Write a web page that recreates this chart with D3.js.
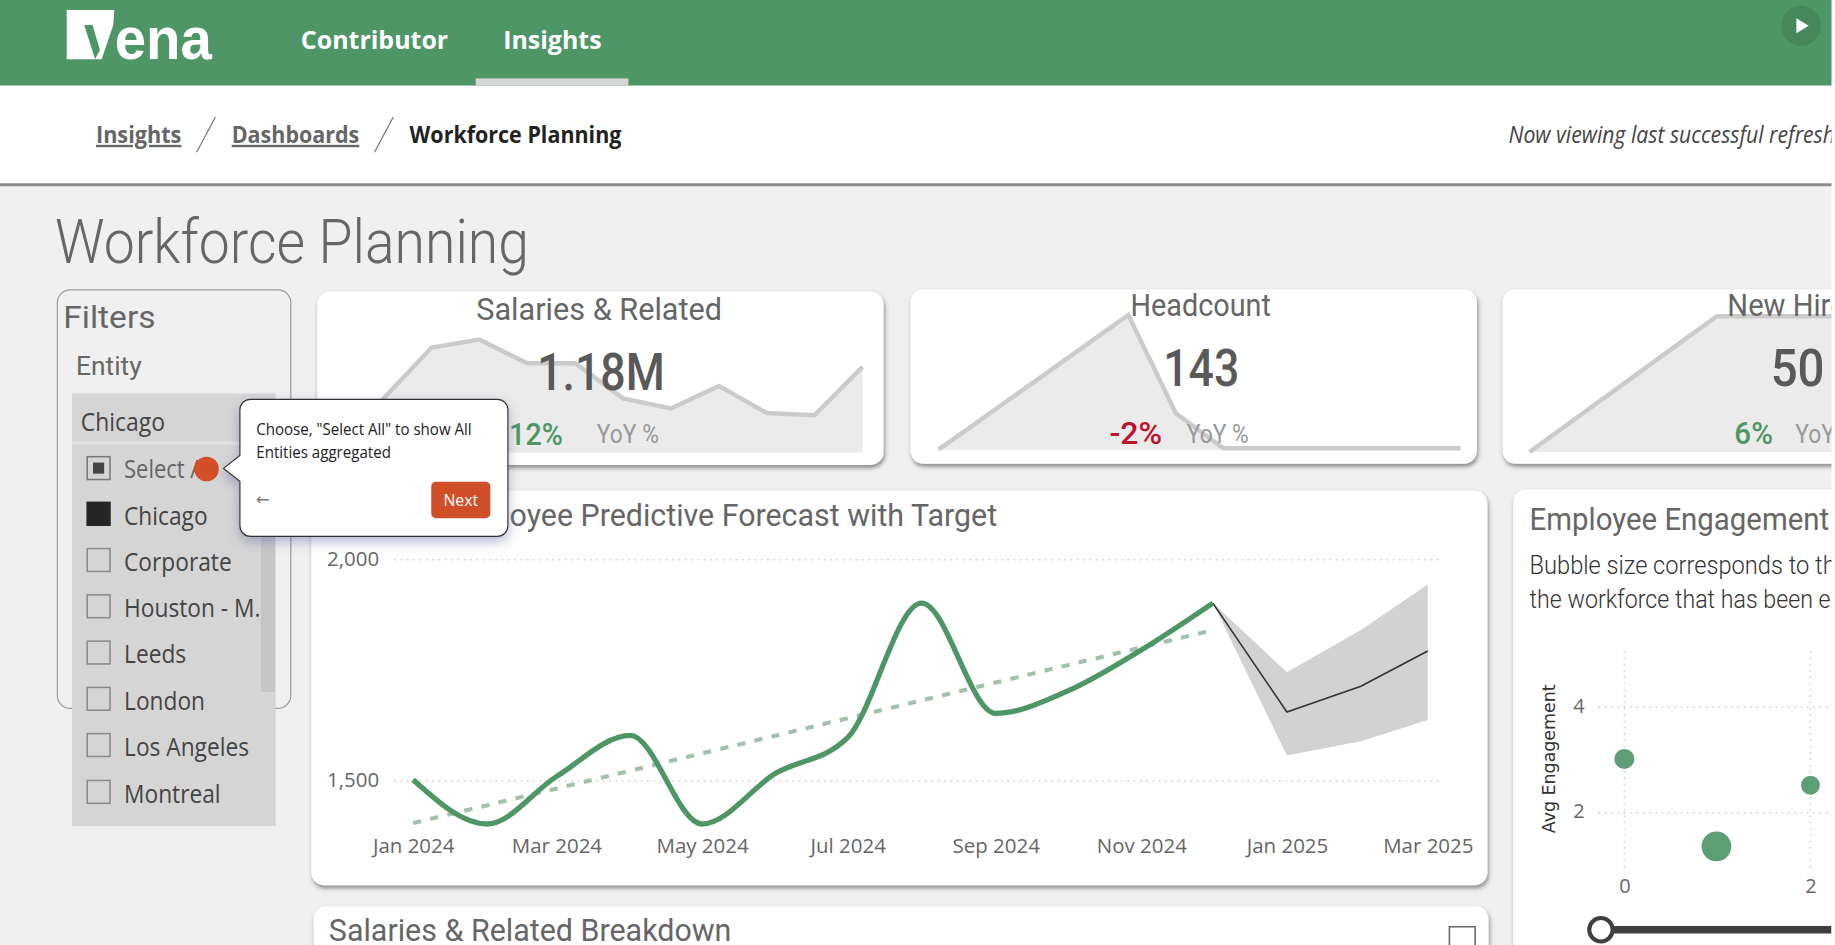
<!DOCTYPE html>
<html>
<head>
<meta charset="utf-8">
<title>Workforce Planning</title>
<script src="https://cdn.jsdelivr.net/npm/d3@7"></script>
<style>
  html, body { margin: 0; padding: 0; background: #fff; overflow: hidden; }
  svg { display: block; }
</style>
</head>
<body>
<svg id="page"></svg>
<script>
// ---- data ----
var actualMonths = ["2024-01","2024-02","2024-03","2024-04","2024-05","2024-06","2024-07","2024-08","2024-09","2024-10","2024-11","2024-12"];
var actualValues = [1503, 1403, 1510, 1603, 1403, 1518, 1598, 1902, 1653, 1703, 1796, 1902];
var trendMonths = ["2024-01","2024-12"];
var trendValues = [1405, 1841];
var forecastMonths = ["2024-12","2025-01","2025-02","2025-03"];
var forecastValues = [1902, 1656, 1714, 1794];
var forecastUpper = [1902, 1746, 1841, 1944];
var forecastLower = [1902, 1558, 1590, 1638];
var xTickMonths = ["2024-01","2024-03","2024-05","2024-07","2024-09","2024-11","2025-01","2025-03"];
var yTicks = [1500, 2000];

// sparklines, relative height of each month (0-100)
var sparkSalaries = [1, 48, 93, 100, 79, 79, 48, 39, 59, 35, 33, 76];
var sparkHeadcount = [0, 25, 50, 75, 100, 27, 1, 1, 1, 1, 1, 1];
var sparkHires = [0, 25, 50, 75, 100, 100, 100, 100, 100, 100, 100, 100];

var bubbleX = [0, 0.99, 2];
var bubbleY = [3.02, 1.36, 2.52];
var bubbleSize = [0.45, 1, 0.4];
var bubbleXTicks = [0, 2];
var bubbleYTicks = [2, 4];

var entities = ["Chicago", "Corporate", "Houston - M.", "Leeds", "London", "Los Angeles", "Montreal"];
var entityRowY = [440, 479.5, 519, 558.5, 598, 637.5, 677.5];

var GREEN = "#4e9665";
var TITLE_FONT = "Roboto, sans-serif";
var BODY_FONT = "'Open Sans', sans-serif";

// page is laid out in a 1568 wide coordinate system, then stretched to the window
var svg = d3.select("#page")
  .attr("width", 1835).attr("height", 945)
  .attr("viewBox", "0 0 1568 807")
  .attr("preserveAspectRatio", "none");

var defs = svg.append("defs");
defs.append("clipPath").attr("id", "pageClip")
  .append("rect").attr("width", 1565).attr("height", 807);
var shadow = defs.append("filter").attr("id", "cardShadow")
  .attr("x", "-5%").attr("y", "-5%").attr("width", "110%").attr("height", "115%");
shadow.append("feDropShadow").attr("dx", 1).attr("dy", 2.5).attr("stdDeviation", 1.8)
  .attr("flood-color", "#444").attr("flood-opacity", 0.6);
var popShadow = defs.append("filter").attr("id", "popShadow")
  .attr("x", "-10%").attr("y", "-10%").attr("width", "120%").attr("height", "125%");
popShadow.append("feDropShadow").attr("dx", 0).attr("dy", 4).attr("stdDeviation", 5)
  .attr("flood-color", "#5a5f9a").attr("flood-opacity", 0.45);

var root = svg.append("g").attr("clip-path", "url(#pageClip)");

// Puts a text on the page. Width, when given, squeezes the glyphs to what the reference has
function label(parent, x, y, text, o) {
  o = o || {};
  var t = parent.append("text")
    .attr("x", x).attr("y", y)
    .attr("font-family", o.font || BODY_FONT)
    .attr("font-size", o.size || 16)
    .attr("font-weight", o.weight || 400)
    .attr("font-style", o.style || "normal")
    .attr("fill", o.fill || "#555")
    .attr("text-anchor", o.anchor || "start")
    .text(text);
  if (o.width) {
    t.attr("textLength", o.width).attr("lengthAdjust", "spacingAndGlyphs");
  }
  if (o.underline) {
    t.attr("text-decoration", "underline");
  }
  return t;
}

function card(x, y, w, h, r) {
  root.append("rect")
    .attr("x", x).attr("y", y).attr("width", w).attr("height", h)
    .attr("rx", r || 11)
    .attr("fill", "#fff")
    .attr("filter", "url(#cardShadow)");
}

function month(s) {
  return d3.timeParse("%Y-%m")(s);
}

drawChrome();
drawFilters();
drawKpis();
drawForecast();
drawBubbles();
drawPopup();

function drawChrome() {
  root.append("rect").attr("width", 1568).attr("height", 807).attr("fill", "#f0f0f0");

  root.append("rect").attr("y", 73).attr("width", 1568).attr("height", 85).attr("fill", "#fff");
  root.append("rect").attr("y", 156.5).attr("width", 1568).attr("height", 2.5).attr("fill", "#8c8c8c");
  root.append("rect").attr("width", 1568).attr("height", 73).attr("fill", GREEN);
  root.append("rect").attr("x", 406.5).attr("y", 67).attr("width", 130.5).attr("height", 6).attr("fill", "#d6d6d6");

  // logo
  root.append("path").attr("d", "M57,8.5 L97.7,8.5 L96.8,21.3 L86.9,50.7 L57,50.7 Z").attr("fill", "#fff");
  root.append("path").attr("d", "M72,21.3 L79,21.3 L85.4,42.7 L81.2,50.7 Z").attr("fill", GREEN);
  label(root, 98, 50.5, "ena", { font: "'Liberation Sans', sans-serif", size: 50, weight: 700, fill: "#fff", width: 83 });

  label(root, 257, 41.5, "Contributor", { size: 22, weight: 700, fill: "#fff", width: 126 });
  label(root, 430, 41.5, "Insights", { size: 22, weight: 700, fill: "#fff", width: 84 });

  // play button
  root.append("circle").attr("cx", 1539).attr("cy", 22).attr("r", 17).attr("fill", "#46885b");
  root.append("path").attr("d", "M1535,15.5 L1545.5,22 L1535,28.5 Z").attr("fill", "#fff");

  // breadcrumb
  label(root, 82, 122, "Insights", { size: 20, weight: 700, fill: "#666", width: 73, underline: true });
  label(root, 198, 122, "Dashboards", { size: 20, weight: 700, fill: "#666", width: 109, underline: true });
  label(root, 350, 122, "Workforce Planning", { size: 20, weight: 700, fill: "#222", width: 181 });
  root.append("line").attr("x1", 184).attr("y1", 100).attr("x2", 168).attr("y2", 130).attr("stroke", "#777");
  root.append("line").attr("x1", 336).attr("y1", 100).attr("x2", 320).attr("y2", 130).attr("stroke", "#777");
  label(root, 1289, 122, "Now viewing last successful refresh", { size: 20, style: "italic", fill: "#444", width: 279 });

  label(root, 47, 225, "Workforce Planning", { font: TITLE_FONT, size: 52, weight: 300, fill: "#666", width: 405 });
}

function drawFilters() {
  root.append("rect")
    .attr("x", 49).attr("y", 247.5).attr("width", 199.5).attr("height", 357.5)
    .attr("rx", 11).attr("fill", "#f0f0f0").attr("stroke", "#9a9a9a").attr("stroke-width", 1);
  label(root, 54, 280, "Filters", { font: TITLE_FONT, size: 27, fill: "#666", width: 79 });
  label(root, 65, 320, "Entity", { font: TITLE_FONT, size: 22, fill: "#666", width: 56 });

  root.append("rect").attr("x", 61.5).attr("y", 336).attr("width", 174).attr("height", 369.5).attr("fill", "#d6d5d5");
  root.append("rect").attr("x", 61.5).attr("y", 377).attr("width", 174).attr("height", 3).attr("fill", "#e3e3e3");
  root.append("rect").attr("x", 223).attr("y", 381).attr("width", 12).attr("height", 210).attr("fill", "#c6c6c6");
  label(root, 69, 368, "Chicago", { size: 21, fill: "#444", width: 72 });

  var box = 19.5;
  // Select All row, half checked
  root.append("rect").attr("x", 74.5).attr("y", 390).attr("width", box).attr("height", box)
    .attr("fill", "none").attr("stroke", "#777").attr("stroke-width", 1.3);
  root.append("rect").attr("x", 79.5).attr("y", 395).attr("width", box - 10).attr("height", box - 10).attr("fill", "#444");
  label(root, 106, 408, "Select All", { size: 21, fill: "#666", width: 78 });

  var rows = root.selectAll("g.entity").data(entities).enter().append("g").attr("class", "entity");
  rows.append("rect")
    .attr("x", 74.5).attr("y", function (d, i) { return entityRowY[i] - 11; })
    .attr("width", box).attr("height", box)
    .attr("fill", function (d) { return d === "Chicago" ? "#252525" : "none"; })
    .attr("stroke", function (d) { return d === "Chicago" ? "#252525" : "#8a8a8a"; })
    .attr("stroke-width", 1.3);
  // the reference font runs narrower than Open Sans
  rows.append("text")
    .attr("transform", function (d, i) { return "translate(106," + (entityRowY[i] + 8) + ") scale(0.925,1)"; })
    .attr("font-family", BODY_FONT).attr("font-size", 21).attr("fill", "#444")
    .text(function (d) { return d; });
}

function sparkline(values, left, right, top, base, stroke) {
  var x = d3.scaleLinear().domain([0, values.length - 1]).range([left, right]);
  var y = d3.scaleLinear().domain([0, 100]).range([base, top]);
  var area = d3.area().x(function (d, i) { return x(i); }).y0(base).y1(function (d) { return y(d); });
  var line = d3.line().x(function (d, i) { return x(i); }).y(function (d) { return y(d); });
  root.append("path").datum(values).attr("d", area).attr("fill", "#ebebeb");
  root.append("path").datum(values).attr("d", line)
    .attr("fill", "none").attr("stroke", stroke || "#cbcbcb").attr("stroke-width", 3.8);
}

function drawKpis() {
  card(271, 249, 484, 148);
  card(778, 247, 484, 149);
  card(1284, 247, 300, 149);

  sparkline(sparkSalaries, 287, 737, 290, 386.5);
  sparkline(sparkHeadcount, 802, 1248, 269, 384);
  sparkline(sparkHires, 1307, 1747, 270, 386);

  label(root, 407, 273, "Salaries & Related", { font: TITLE_FONT, size: 26, fill: "#666", width: 210 });
  label(root, 966, 270, "Headcount", { font: TITLE_FONT, size: 26, fill: "#666", width: 120 });
  label(root, 1476, 270, "New Hires", { font: TITLE_FONT, size: 26, fill: "#666", width: 114 });

  label(root, 459, 333, "1.18M", { font: TITLE_FONT, size: 44, weight: 500, fill: "#595959", width: 109 });
  label(root, 994, 330, "143", { font: TITLE_FONT, size: 44, weight: 500, fill: "#595959", width: 65 });
  label(root, 1513, 330, "50", { font: TITLE_FONT, size: 44, weight: 500, fill: "#595959", width: 46 });

  label(root, 435, 380, "12%", { font: TITLE_FONT, size: 26, weight: 500, fill: GREEN, width: 46 });
  label(root, 510, 378, "YoY %", { font: TITLE_FONT, size: 22, fill: "#999", width: 53 });
  label(root, 948, 379, "-2%", { font: TITLE_FONT, size: 26, weight: 500, fill: "#c0112e", width: 45 });
  label(root, 1014, 378, "YoY %", { font: TITLE_FONT, size: 22, fill: "#999", width: 53 });
  label(root, 1482, 379, "6%", { font: TITLE_FONT, size: 26, weight: 500, fill: GREEN, width: 33 });
  label(root, 1534, 378, "YoY %", { font: TITLE_FONT, size: 22, fill: "#999", width: 53 });
}

function drawForecast() {
  card(266, 419, 1005, 337);
  card(268, 774, 1004, 60);

  label(root, 377, 449, "Employee Predictive Forecast with Target", { font: TITLE_FONT, size: 26, fill: "#666", width: 475 });
  label(root, 281, 804, "Salaries & Related Breakdown", { font: TITLE_FONT, size: 26, fill: "#666", width: 344 });

  // comment icon of the breakdown card
  root.append("path").attr("d", "M1238.5,807 L1238.5,791.5 L1260.5,791.5 L1260.5,807")
    .attr("fill", "none").attr("stroke", "#666").attr("stroke-width", 1.3);

  var x = d3.scaleTime().domain([month("2024-01"), month("2025-03")]).range([353, 1220]);
  var y = d3.scaleLinear().domain([1500, 2000]).range([667, 478]);

  var grid = root.append("g");
  grid.selectAll("line").data(yTicks).enter().append("line")
    .attr("x1", 337).attr("x2", 1233)
    .attr("y1", function (d) { return y(d); }).attr("y2", function (d) { return y(d); })
    .attr("stroke", "#c9c9c9").attr("stroke-width", 1.2).attr("stroke-dasharray", "1.2 4.2");

  var xAxis = d3.axisBottom(x)
    .tickValues(xTickMonths.map(month))
    .tickFormat(d3.timeFormat("%b %Y"))
    .tickSize(0).tickPadding(0);
  var gx = root.append("g").attr("transform", "translate(0,722)").call(xAxis);
  gx.select(".domain").remove();
  gx.selectAll("text").attr("font-family", BODY_FONT).attr("font-size", 17.5).attr("fill", "#666")
    .attr("dy", "0.35em").attr("y", 0);

  var yAxis = d3.axisLeft(y).tickValues(yTicks).tickFormat(d3.format(",")).tickSize(0).tickPadding(0);
  var gy = root.append("g").attr("transform", "translate(324,-1)").call(yAxis);
  gy.select(".domain").remove();
  gy.selectAll("text").attr("font-family", BODY_FONT).attr("font-size", 17.5).attr("fill", "#666");

  // forecast confidence band
  var band = d3.area()
    .x(function (d) { return x(month(d)); })
    .y0(function (d, i) { return y(forecastLower[i]); })
    .y1(function (d, i) { return y(forecastUpper[i]); });
  root.append("path").datum(forecastMonths).attr("d", band).attr("fill", "#d2d2d2");

  var forecastLine = d3.line()
    .x(function (d) { return x(month(d)); })
    .y(function (d, i) { return y(forecastValues[i]); });
  root.append("path").datum(forecastMonths).attr("d", forecastLine)
    .attr("fill", "none").attr("stroke", "#333").attr("stroke-width", 1.4);

  var trendLine = d3.line()
    .x(function (d) { return x(month(d)); })
    .y(function (d, i) { return y(trendValues[i]); });
  root.append("path").datum(trendMonths).attr("d", trendLine)
    .attr("fill", "none").attr("stroke", "#a3c0ad").attr("stroke-width", 3.5).attr("stroke-dasharray", "7 8");

  var actualLine = d3.line()
    .x(function (d) { return x(month(d)); })
    .y(function (d, i) { return y(actualValues[i]); })
    .curve(d3.curveMonotoneX);
  root.append("path").datum(actualMonths).attr("d", actualLine)
    .attr("fill", "none").attr("stroke", GREEN).attr("stroke-width", 4.5);
}

function drawBubbles() {
  card(1293, 418, 300, 420);

  label(root, 1307, 453, "Employee Engagement", { font: TITLE_FONT, size: 26, fill: "#666", width: 256 });
  label(root, 1307, 490, "Bubble size corresponds to the", { font: TITLE_FONT, size: 22, weight: 300, fill: "#333", width: 272 });
  label(root, 1307, 519, "the workforce that has been engaged", { font: TITLE_FONT, size: 22, weight: 300, fill: "#333", width: 322 });

  var x = d3.scaleLinear().domain([0, 2]).range([1388, 1547]);
  var y = d3.scaleLinear().domain([2, 4]).range([694, 604]);
  var r = d3.scaleSqrt().domain([0, 1]).range([0, 12.7]);

  root.selectAll("line.bx").data(bubbleXTicks).enter().append("line").attr("class", "bx")
    .attr("x1", function (d) { return x(d); }).attr("x2", function (d) { return x(d); })
    .attr("y1", 556).attr("y2", 743)
    .attr("stroke", "#c9c9c9").attr("stroke-width", 1.2).attr("stroke-dasharray", "1.2 4.2");
  root.selectAll("line.by").data(bubbleYTicks).enter().append("line").attr("class", "by")
    .attr("x1", 1366).attr("x2", 1565)
    .attr("y1", function (d) { return y(d); }).attr("y2", function (d) { return y(d); })
    .attr("stroke", "#c9c9c9").attr("stroke-width", 1.2).attr("stroke-dasharray", "1.2 4.2");

  var gx = root.append("g").attr("transform", "translate(0,757)")
    .call(d3.axisBottom(x).tickValues(bubbleXTicks).tickFormat(d3.format("d")).tickSize(0).tickPadding(0));
  gx.select(".domain").remove();
  gx.selectAll("text").attr("font-family", BODY_FONT).attr("font-size", 17).attr("fill", "#666")
    .attr("dy", "0.35em").attr("y", 0);

  var gy = root.append("g").attr("transform", "translate(1354,-1)")
    .call(d3.axisLeft(y).tickValues(bubbleYTicks).tickFormat(d3.format("d")).tickSize(0).tickPadding(0));
  gy.select(".domain").remove();
  gy.selectAll("text").attr("font-family", BODY_FONT).attr("font-size", 17).attr("fill", "#666");

  label(root, 0, 0, "Avg Engagement", { font: "'DejaVu Sans', sans-serif", size: 14.5, fill: "#333", anchor: "middle", width: 127 })
    .attr("transform", "translate(1329,648) rotate(-90)");

  root.selectAll("circle.bubble").data(bubbleX).enter().append("circle").attr("class", "bubble")
    .attr("cx", function (d) { return x(d); })
    .attr("cy", function (d, i) { return y(bubbleY[i]); })
    .attr("r", function (d, i) { return r(bubbleSize[i]); })
    .attr("fill", "#5d9e74");

  // play axis slider
  root.append("line").attr("x1", 1368).attr("x2", 1565).attr("y1", 794).attr("y2", 794)
    .attr("stroke", "#3f3f3f").attr("stroke-width", 6.5);
  root.append("circle").attr("cx", 1368).attr("cy", 794).attr("r", 10)
    .attr("fill", "#fff").attr("stroke", "#3f3f3f").attr("stroke-width", 3.5);
}

function drawPopup() {
  root.append("circle").attr("cx", 176.5).attr("cy", 400.5).attr("r", 10.5).attr("fill", "#d24f28");

  root.append("path")
    .attr("d", "M214,341 L425,341 A9,9 0 0 1 434,350 L434,449 A9,9 0 0 1 425,458 L214,458 A9,9 0 0 1 205,449 L205,411 L191,400 L205,389 L205,350 A9,9 0 0 1 214,341 Z")
    .attr("fill", "#fff").attr("stroke", "#333").attr("stroke-width", 1)
    .attr("filter", "url(#popShadow)");

  label(root, 219, 371.5, "Choose, \"Select All\" to show All", { size: 13.5, fill: "#222", width: 184 });
  label(root, 219, 391.5, "Entities aggregated", { size: 13.5, fill: "#222", width: 115 });

  label(root, 224.5, 431.5, "\u2190", { font: "'DejaVu Sans', sans-serif", size: 14, fill: "#777", anchor: "middle" });
  root.append("rect").attr("x", 368.5).attr("y", 411.5).attr("width", 50.5).attr("height", 31)
    .attr("rx", 4).attr("fill", "#d14f28");
  label(root, 393.7, 432, "Next", { size: 13.5, fill: "#fff", anchor: "middle" });
}
</script>
</body>
</html>
